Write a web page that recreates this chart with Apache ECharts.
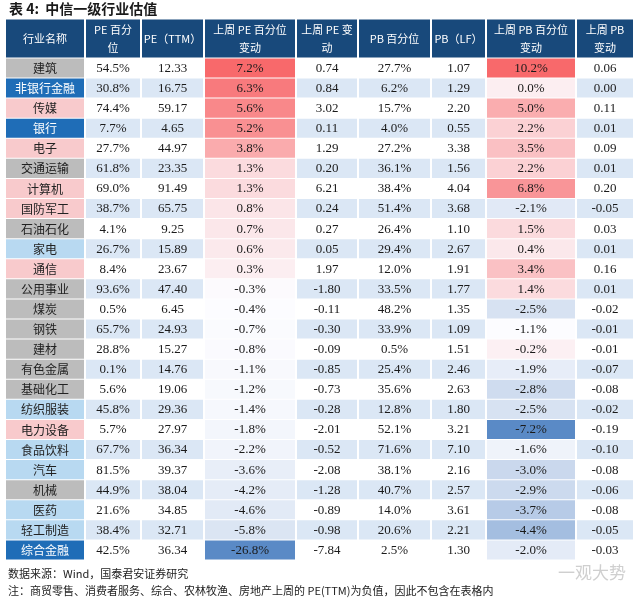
<!DOCTYPE html>
<html><head><meta charset="utf-8">
<script src="https://cdn.jsdelivr.net/npm/echarts@6/dist/echarts.min.js"></script>
<style>html,body{margin:0;padding:0;background:#fff}#c{width:640px;height:600px}</style>
</head><body><div id="c"></div>
<script>
// ---------- data ----------
const headerLabels = ['行业名称','PE 百分\n位','PE（TTM）','上周 PE 百分位\n变动','上周 PE 变\n动','PB 百分位','PB（LF）','上周 PB 百分位\n变动','上周 PB\n变动'];
const industries = ['建筑','非银行金融','传媒','银行','电子','交通运输','计算机','国防军工','石油石化','家电','通信','公用事业','煤炭','钢铁','建材','有色金属','基础化工','纺织服装','电力设备','食品饮料','汽车','机械','医药','轻工制造','综合金融'];
const sectorGroups = ['cyc','fin','grw','fin','grw','cyc','grw','grw','cyc','con','grw','cyc','cyc','cyc','cyc','cyc','cyc','con','grw','con','con','cyc','con','con','fin'];
const pePct    = [54.5,30.8,74.4,7.7,27.7,61.8,69.0,38.7,4.1,26.7,8.4,93.6,0.5,65.7,28.8,0.1,5.6,45.8,5.7,67.7,81.5,44.9,21.6,38.4,42.5];
const peTTM    = [12.33,16.75,59.17,4.65,44.97,23.35,91.49,65.75,9.25,15.89,23.67,47.40,6.45,24.93,15.27,14.76,19.06,29.36,27.97,36.34,39.37,38.04,34.85,32.71,36.34];
const pePctChg = [7.2,6.3,5.6,5.2,3.8,1.3,1.3,0.8,0.7,0.6,0.3,-0.3,-0.4,-0.7,-0.8,-1.1,-1.2,-1.4,-1.8,-2.2,-3.6,-4.2,-4.6,-5.8,-26.8];
const peChg    = [0.74,0.84,3.02,0.11,1.29,0.20,6.21,0.24,0.27,0.05,1.97,-1.80,-0.11,-0.30,-0.09,-0.85,-0.73,-0.28,-2.01,-0.52,-2.08,-1.28,-0.89,-0.98,-7.84];
const pbPct    = [27.7,6.2,15.7,4.0,27.2,36.1,38.4,51.4,26.4,29.4,12.0,33.5,48.2,33.9,0.5,25.4,35.6,12.8,52.1,71.6,38.1,40.7,14.0,20.6,2.5];
const pbLF     = [1.07,1.29,2.20,0.55,3.38,1.56,4.04,3.68,1.10,2.67,1.91,1.77,1.35,1.09,1.51,2.46,2.63,1.80,3.21,7.10,2.16,2.57,3.61,2.21,1.30];
const pbPctChg = [10.2,0.0,5.0,2.2,3.5,2.2,6.8,-2.1,1.5,0.4,3.4,1.4,-2.5,-1.1,-0.2,-1.9,-2.8,-2.5,-7.2,-1.6,-3.0,-2.9,-3.7,-4.4,-2.0];
const pbChg    = [0.06,0.00,0.11,0.01,0.09,0.01,0.20,-0.05,0.03,0.01,0.16,0.01,-0.02,-0.01,-0.01,-0.07,-0.08,-0.02,-0.19,-0.10,-0.08,-0.06,-0.08,-0.05,-0.03];
const titleText = '表 4:  中信一级行业估值';
const sourceText = '数据来源：Wind，国泰君安证券研究';
const noteText = '注：商贸零售、消费者服务、综合、农林牧渔、房地产上周的 PE(TTM)为负值，因此不包含在表格内';
const watermarkText = '一观大势';

// ---------- layout / style ----------
const colEdges = [0,80,136,199,291,353,426,481,571,629];
const HEADER_UNITS = 1.94;
const groupColor = {cyc:'#bcbcbc', fin:'#1f6db7', grw:'#f8cacc', con:'#b8d9f1'};
const stripe = '#dbe7f5';
const headerBg = '#18497b';
const CJK = '"Noto Sans CJK SC"';
const SERIF = '"Liberation Serif", "Times New Roman", serif';

const columns = [industries, pePct, peTTM, pePctChg, peChg, pbPct, pbLF, pbPctChg, pbChg];
const pct = v => v.toFixed(1) + '%';
const n2 = v => v.toFixed(2);
const formatters = [s => s, pct, n2, pct, n2, pct, n2, pct, n2];
const heatCols = {3: pePctChg, 7: pbPctChg};

function hex(h){return [parseInt(h.slice(1,3),16),parseInt(h.slice(3,5),16),parseInt(h.slice(5,7),16)];}
function mix(a,b,t){const A=hex(a),B=hex(b);return 'rgb('+A.map((x,i)=>Math.round(x+(B[i]-x)*t)).join(',')+')';}
function median(arr){const s=[...arr].sort((a,b)=>a-b);const m=Math.floor(s.length/2);return s.length%2?s[m]:(s[m-1]+s[m])/2;}
function heatColor(v, arr){
  const mid = median(arr), mn = Math.min(...arr), mx = Math.max(...arr);
  if (v >= mid) return mix('#fcfcff','#f8696b', mx===mid?0:(v-mid)/(mx-mid));
  return mix('#fcfcff','#5a8ac6', (mid-v)/(mid-mn));
}

const cells = [];
for (let r = -1; r < industries.length; r++) for (let c = 0; c < columns.length; c++) cells.push([c, r]);

const chart = echarts.init(document.getElementById('c'), null, {renderer:'canvas'});
chart.setOption({
  animation:false,
  backgroundColor:'#fff',
  title:[
    {text:titleText, left:9, top:1, padding:0, textStyle:{fontFamily:CJK+','+SERIF, fontSize:14, fontWeight:'bold', color:'#1a1a1a', lineHeight:16}},
    {text:sourceText, left:8, top:567, padding:0, textStyle:{fontFamily:CJK, fontSize:11, fontWeight:'normal', color:'#222', lineHeight:14}},
    {text:noteText, left:8, top:584, padding:0, textStyle:{fontFamily:CJK, fontSize:11, fontWeight:'normal', color:'#222', lineHeight:14}},
    {text:watermarkText, left:558, top:563, padding:0, textStyle:{fontFamily:CJK, fontSize:17, fontWeight:'normal', color:'#cfcfcf', lineHeight:20}}
  ],
  grid:{left:5, top:19, width:629, height:541},
  xAxis:{type:'value', min:0, max:colEdges[colEdges.length-1], show:false},
  yAxis:{type:'value', min:-HEADER_UNITS, max:industries.length, inverse:true, show:false},
  series:[{
    type:'custom',
    data:cells,
    clip:false,
    renderItem:function(params, api){
      const c = api.value(0), r = api.value(1);
      const yTop = r < 0 ? -HEADER_UNITS : r, yBot = r < 0 ? 0 : r + 1;
      const p0 = api.coord([colEdges[c], yTop]);
      const p1 = api.coord([colEdges[c+1], yBot]);
      const gx = 1, gy = 0.5;
      const x = p0[0] + gx, y = p0[1] + gy, w = p1[0] - p0[0] - 2*gx, h = p1[1] - p0[1] - 2*gy;
      let fill, tColor = '#1a1a1a', font, text;
      if (r < 0) {
        fill = headerBg; tColor = '#ffffff'; font = '11px ' + CJK; text = headerLabels[c];
      } else {
        text = formatters[c](columns[c][r]);
        if (c === 0) {
          const g = sectorGroups[r];
          fill = groupColor[g]; tColor = g === 'fin' ? '#ffffff' : '#222222';
          font = '12px ' + CJK;
        } else {
          font = '13px ' + SERIF;
          if (heatCols[c]) fill = heatColor(columns[c][r], heatCols[c]);
          else fill = (r % 2 === 1) ? stripe : '#ffffff';
        }
      }
      return {type:'group', children:[
        {type:'rect', shape:{x:x, y:y, width:w, height:h}, style:{fill:fill}},
        {type:'text', style:{text:text, x:x + w/2, y:y + h/2 + 0.5, align:'center', verticalAlign:'middle', textAlign:'center', textVerticalAlign:'middle', fill:tColor, font:font, lineHeight:18}}
      ]};
    }
  }]
});
</script></body></html>
